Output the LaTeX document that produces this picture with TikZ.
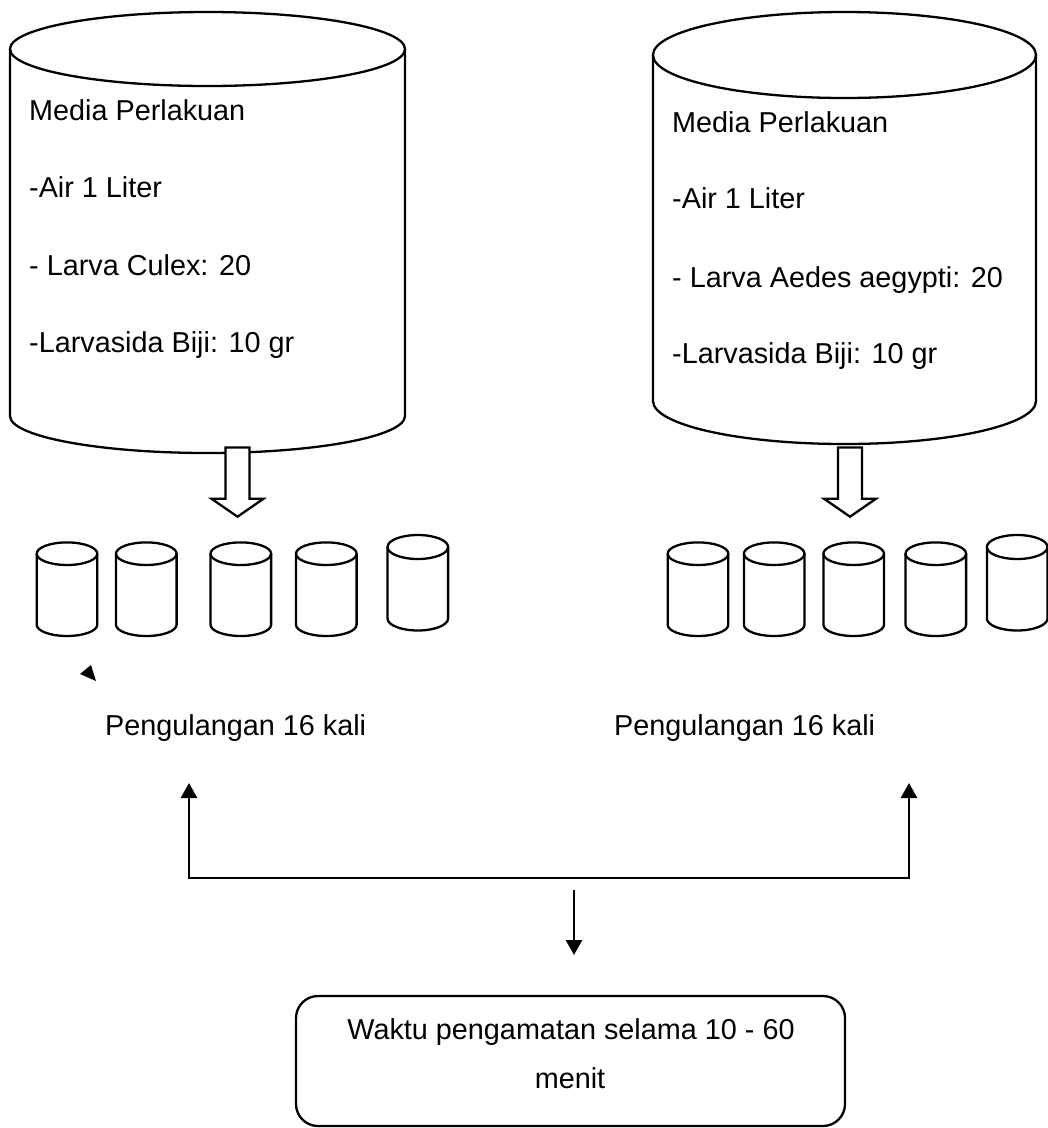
\documentclass[tikz,border=0pt]{standalone}
\usepackage{fontspec}
\setmainfont{Liberation Sans}
\usetikzlibrary{arrows.meta,calc}

% drum: #1 centre x, #2 half width, #3 top ellipse y, #4 bottom ellipse y, #5 ellipse half height
\newcommand\drum[5]{%
  \draw[cyl] (#1-#2,#3) -- (#1-#2,#4)
    arc[start angle=180,end angle=360,x radius=#2pt,y radius=#5pt] -- (#1+#2,#3);
  \draw[cyl] (#1,#3) ellipse[x radius=#2pt,y radius=#5pt];
}
% hollow block arrow from coordinate #1 (top of shaft) to coordinate #2 (tip)
\newcommand\blockarrow[2]{%
  \draw[blk] let \p1=(#1), \p2=(#2) in
    (\x1-12pt,\y1) -- (\x1+12pt,\y1) -- (\x1+12pt,\y2+18pt) -- (\x1+26pt,\y2+18pt)
    -- (\x2,\y2) -- (\x1-26pt,\y2+18pt) -- (\x1-12pt,\y2+18pt) -- cycle;
}

\tikzset{
  cyl/.style={line width=2.3pt},
  blk/.style={line width=2.3pt, fill=white},
  conn/.style={line width=2.6pt},
  headtip/.tip={Triangle[length=15pt,width=16pt]},
  txt/.style={inner sep=0pt, font=\fontsize{28.8}{49}\selectfont},
  obsbox/.style={draw, line width=2.3pt, rounded corners=22pt,
                 minimum width=549pt, minimum height=130pt, inner sep=0pt}
}

\begin{document}
\begin{tikzpicture}[x=1pt,y=-1pt]
\useasboundingbox (0,0) rectangle (1048,1128);

% large treatment containers
\drum{207.5}{197.5}{49}{416}{37}
\drum{844.5}{191.5}{55}{401}{43}

\node[txt, anchor=base west] (mL1) at (29,120) {Media Perlakuan};
\node[txt, anchor=base west] (mL2) at (29,197) {-Air 1 Liter};
\node[txt, anchor=base west] (mL3) at (29,275) {- Larva Culex: 20};
\node[txt, anchor=base west] (mL4) at (29,352) {-Larvasida Biji: 10 gr};

\node[txt, anchor=base west] (mR1) at (672,132) {Media Perlakuan};
\node[txt, anchor=base west] (mR2) at (672,208) {-Air 1 Liter};
\node[txt, anchor=base west] (mR3) at (672,287) {- Larva Aedes aegypti: 20};
\node[txt, anchor=base west] (mR4) at (672,363) {-Larvasida Biji: 10 gr};

% small replicate containers
\drum{67}{30.3}{553.7}{624.7}{11.3}
\drum{146.3}{30.3}{553.7}{624.7}{11.3}
\drum{240.8}{30.3}{553.7}{624.7}{11.3}
\drum{326.3}{30.3}{553.7}{624.7}{11.3}
\drum{417.8}{30.3}{547}{618.5}{12}

\drum{698}{30.3}{553.7}{624.7}{11.3}
\drum{774.2}{30.3}{553.7}{624.7}{11.3}
\drum{853.7}{30.3}{553.7}{624.7}{11.3}
\drum{935.8}{30.3}{553.7}{624.7}{11.3}
\drum{1017.2}{30.3}{547}{618.5}{12}

% block arrows from each large container to its replicates
\coordinate (srcL) at (237.5,447.5);
\coordinate (dstL) at (237.5,516.7);
\coordinate (srcR) at (850,447.5);
\coordinate (dstR) at (850,516.7);
\blockarrow{srcL}{dstL}
\blockarrow{srcR}{dstR}

% loose arrow head
\fill (91,665) -- (80,674) -- (96,681) -- cycle;

\node[txt, anchor=base west] (repL) at (105,735) {Pengulangan 16 kali};
\node[txt, anchor=base west] (repR) at (614,735) {Pengulangan 16 kali};

% bracket connector
\coordinate (upL) at (189,783);
\coordinate (jL) at (189,878);
\coordinate (jR) at (909,878);
\coordinate (upR) at (909,783);
\draw[conn, headtip-headtip] (upL) -- (jL) -- (jR) -- (upR);

\coordinate (dTop) at (574,890);
\coordinate (dTip) at (574,955);
\draw[conn, -headtip] (dTop) -- (dTip);

% observation box
\node[obsbox] (obs) at (570.5,1061) {};
\node[txt, anchor=base] (obs1) at (571,1039.3) {Waktu pengamatan selama 10 - 60};
\node[txt, anchor=base] (obs2) at (570,1088.3) {menit};
\end{tikzpicture}
\end{document}
